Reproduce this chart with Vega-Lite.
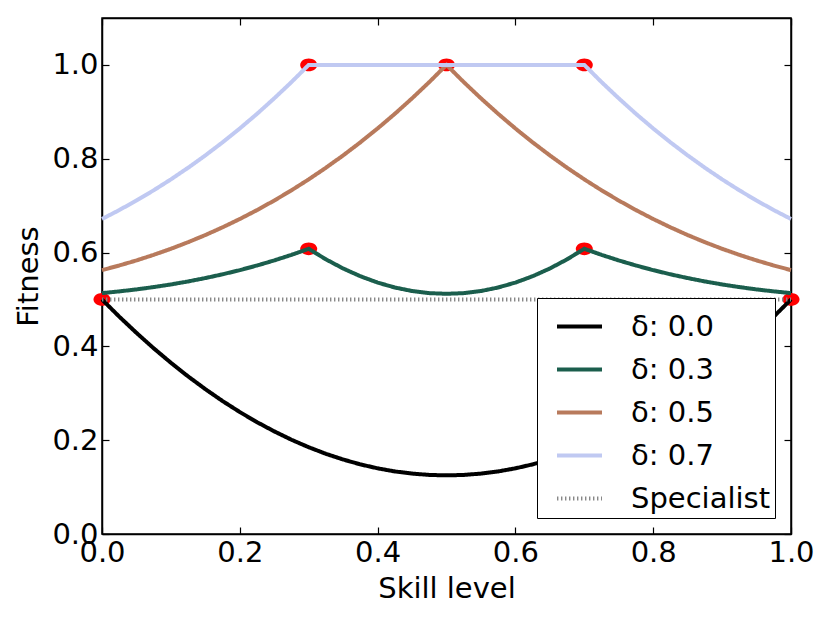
{
  "$schema": "https://vega.github.io/schema/vega-lite/v6.json",
  "width": 689,
  "height": 516,
  "autosize": "none",
  "padding": {"left": 102, "top": 18, "right": 39, "bottom": 89},
  "background": "white",
  "config": {
    "view": {"stroke": "black", "strokeWidth": 1.5},
    "font": "DejaVu Sans",
    "axis": {
      "domainColor": "black",
      "domainWidth": 1.5,
      "tickColor": "black",
      "tickWidth": 1.2,
      "tickSize": -7,
      "labelPadding": 11,
      "labelFont": "DejaVu Sans",
      "labelFontSize": 29,
      "labelColor": "black",
      "labelFlush": false,
      "labelOverlap": false,
      "titleFont": "DejaVu Sans",
      "titleFontSize": 29,
      "titleFontWeight": "normal",
      "titleColor": "black",
      "grid": false
    },
    "legend": {
      "padding": 4,
      "symbolOffset": 14,
      "symbolType": "stroke",
      "symbolSize": 2025,
      "symbolStrokeWidth": 4,
      "labelFont": "DejaVu Sans",
      "labelFontSize": 29,
      "labelColor": "black",
      "labelOffset": 27,
      "labelLimit": 300,
      "rowPadding": 3,
      "strokeColor": "black",
      "fillColor": "white",
      "cornerRadius": 0
    }
  },
  "datasets": {
    "peaks": [
      {"x": 0, "y": 0.5},
      {"x": 1, "y": 0.5},
      {"x": 0.3, "y": 0.608},
      {"x": 0.7, "y": 0.608},
      {"x": 0.5, "y": 1},
      {"x": 0.3, "y": 1},
      {"x": 0.7, "y": 1}
    ],
    "curves": [
      {"x": 0, "y": 0.5, "s": "δ: 0.0"},
      {"x": 0.025, "y": 0.4634, "s": "δ: 0.0"},
      {"x": 0.05, "y": 0.4288, "s": "δ: 0.0"},
      {"x": 0.075, "y": 0.3959, "s": "δ: 0.0"},
      {"x": 0.1, "y": 0.365, "s": "δ: 0.0"},
      {"x": 0.125, "y": 0.3359, "s": "δ: 0.0"},
      {"x": 0.15, "y": 0.3088, "s": "δ: 0.0"},
      {"x": 0.175, "y": 0.2834, "s": "δ: 0.0"},
      {"x": 0.2, "y": 0.26, "s": "δ: 0.0"},
      {"x": 0.225, "y": 0.2384, "s": "δ: 0.0"},
      {"x": 0.25, "y": 0.2188, "s": "δ: 0.0"},
      {"x": 0.275, "y": 0.2009, "s": "δ: 0.0"},
      {"x": 0.3, "y": 0.185, "s": "δ: 0.0"},
      {"x": 0.325, "y": 0.1709, "s": "δ: 0.0"},
      {"x": 0.35, "y": 0.1588, "s": "δ: 0.0"},
      {"x": 0.375, "y": 0.1484, "s": "δ: 0.0"},
      {"x": 0.4, "y": 0.14, "s": "δ: 0.0"},
      {"x": 0.425, "y": 0.1334, "s": "δ: 0.0"},
      {"x": 0.45, "y": 0.1288, "s": "δ: 0.0"},
      {"x": 0.475, "y": 0.1259, "s": "δ: 0.0"},
      {"x": 0.5, "y": 0.125, "s": "δ: 0.0"},
      {"x": 0.525, "y": 0.1259, "s": "δ: 0.0"},
      {"x": 0.55, "y": 0.1288, "s": "δ: 0.0"},
      {"x": 0.575, "y": 0.1334, "s": "δ: 0.0"},
      {"x": 0.6, "y": 0.14, "s": "δ: 0.0"},
      {"x": 0.625, "y": 0.1484, "s": "δ: 0.0"},
      {"x": 0.65, "y": 0.1588, "s": "δ: 0.0"},
      {"x": 0.675, "y": 0.1709, "s": "δ: 0.0"},
      {"x": 0.7, "y": 0.185, "s": "δ: 0.0"},
      {"x": 0.725, "y": 0.2009, "s": "δ: 0.0"},
      {"x": 0.75, "y": 0.2188, "s": "δ: 0.0"},
      {"x": 0.775, "y": 0.2384, "s": "δ: 0.0"},
      {"x": 0.8, "y": 0.26, "s": "δ: 0.0"},
      {"x": 0.825, "y": 0.2834, "s": "δ: 0.0"},
      {"x": 0.85, "y": 0.3088, "s": "δ: 0.0"},
      {"x": 0.875, "y": 0.3359, "s": "δ: 0.0"},
      {"x": 0.9, "y": 0.365, "s": "δ: 0.0"},
      {"x": 0.925, "y": 0.3959, "s": "δ: 0.0"},
      {"x": 0.95, "y": 0.4288, "s": "δ: 0.0"},
      {"x": 0.975, "y": 0.4634, "s": "δ: 0.0"},
      {"x": 1, "y": 0.5, "s": "δ: 0.0"},

      {"x": 0, "y": 0.5135, "s": "δ: 0.3"},
      {"x": 0.025, "y": 0.5172, "s": "δ: 0.3"},
      {"x": 0.05, "y": 0.5214, "s": "δ: 0.3"},
      {"x": 0.075, "y": 0.5264, "s": "δ: 0.3"},
      {"x": 0.1, "y": 0.532, "s": "δ: 0.3"},
      {"x": 0.125, "y": 0.5384, "s": "δ: 0.3"},
      {"x": 0.15, "y": 0.5456, "s": "δ: 0.3"},
      {"x": 0.175, "y": 0.5536, "s": "δ: 0.3"},
      {"x": 0.2, "y": 0.5625, "s": "δ: 0.3"},
      {"x": 0.225, "y": 0.5724, "s": "δ: 0.3"},
      {"x": 0.25, "y": 0.5832, "s": "δ: 0.3"},
      {"x": 0.275, "y": 0.5951, "s": "δ: 0.3"},
      {"x": 0.3, "y": 0.608, "s": "δ: 0.3"},
      {"x": 0.325, "y": 0.5855, "s": "δ: 0.3"},
      {"x": 0.35, "y": 0.566, "s": "δ: 0.3"},
      {"x": 0.375, "y": 0.5495, "s": "δ: 0.3"},
      {"x": 0.4, "y": 0.536, "s": "δ: 0.3"},
      {"x": 0.425, "y": 0.5255, "s": "δ: 0.3"},
      {"x": 0.45, "y": 0.518, "s": "δ: 0.3"},
      {"x": 0.475, "y": 0.5135, "s": "δ: 0.3"},
      {"x": 0.5, "y": 0.512, "s": "δ: 0.3"},
      {"x": 0.525, "y": 0.5135, "s": "δ: 0.3"},
      {"x": 0.55, "y": 0.518, "s": "δ: 0.3"},
      {"x": 0.575, "y": 0.5255, "s": "δ: 0.3"},
      {"x": 0.6, "y": 0.536, "s": "δ: 0.3"},
      {"x": 0.625, "y": 0.5495, "s": "δ: 0.3"},
      {"x": 0.65, "y": 0.566, "s": "δ: 0.3"},
      {"x": 0.675, "y": 0.5855, "s": "δ: 0.3"},
      {"x": 0.7, "y": 0.608, "s": "δ: 0.3"},
      {"x": 0.725, "y": 0.5951, "s": "δ: 0.3"},
      {"x": 0.75, "y": 0.5832, "s": "δ: 0.3"},
      {"x": 0.775, "y": 0.5724, "s": "δ: 0.3"},
      {"x": 0.8, "y": 0.5625, "s": "δ: 0.3"},
      {"x": 0.825, "y": 0.5536, "s": "δ: 0.3"},
      {"x": 0.85, "y": 0.5456, "s": "δ: 0.3"},
      {"x": 0.875, "y": 0.5384, "s": "δ: 0.3"},
      {"x": 0.9, "y": 0.532, "s": "δ: 0.3"},
      {"x": 0.925, "y": 0.5264, "s": "δ: 0.3"},
      {"x": 0.95, "y": 0.5214, "s": "δ: 0.3"},
      {"x": 0.975, "y": 0.5172, "s": "δ: 0.3"},
      {"x": 1, "y": 0.5135, "s": "δ: 0.3"},

      {"x": 0, "y": 0.5625, "s": "δ: 0.5"},
      {"x": 0.025, "y": 0.5724, "s": "δ: 0.5"},
      {"x": 0.05, "y": 0.5832, "s": "δ: 0.5"},
      {"x": 0.075, "y": 0.5951, "s": "δ: 0.5"},
      {"x": 0.1, "y": 0.608, "s": "δ: 0.5"},
      {"x": 0.125, "y": 0.6221, "s": "δ: 0.5"},
      {"x": 0.15, "y": 0.6373, "s": "δ: 0.5"},
      {"x": 0.175, "y": 0.6538, "s": "δ: 0.5"},
      {"x": 0.2, "y": 0.6715, "s": "δ: 0.5"},
      {"x": 0.225, "y": 0.6905, "s": "δ: 0.5"},
      {"x": 0.25, "y": 0.7109, "s": "δ: 0.5"},
      {"x": 0.275, "y": 0.7327, "s": "δ: 0.5"},
      {"x": 0.3, "y": 0.756, "s": "δ: 0.5"},
      {"x": 0.325, "y": 0.7808, "s": "δ: 0.5"},
      {"x": 0.35, "y": 0.8071, "s": "δ: 0.5"},
      {"x": 0.375, "y": 0.835, "s": "δ: 0.5"},
      {"x": 0.4, "y": 0.8645, "s": "δ: 0.5"},
      {"x": 0.425, "y": 0.8957, "s": "δ: 0.5"},
      {"x": 0.45, "y": 0.9287, "s": "δ: 0.5"},
      {"x": 0.475, "y": 0.9634, "s": "δ: 0.5"},
      {"x": 0.5, "y": 1, "s": "δ: 0.5"},
      {"x": 0.525, "y": 0.9634, "s": "δ: 0.5"},
      {"x": 0.55, "y": 0.9287, "s": "δ: 0.5"},
      {"x": 0.575, "y": 0.8957, "s": "δ: 0.5"},
      {"x": 0.6, "y": 0.8645, "s": "δ: 0.5"},
      {"x": 0.625, "y": 0.835, "s": "δ: 0.5"},
      {"x": 0.65, "y": 0.8071, "s": "δ: 0.5"},
      {"x": 0.675, "y": 0.7808, "s": "δ: 0.5"},
      {"x": 0.7, "y": 0.756, "s": "δ: 0.5"},
      {"x": 0.725, "y": 0.7327, "s": "δ: 0.5"},
      {"x": 0.75, "y": 0.7109, "s": "δ: 0.5"},
      {"x": 0.775, "y": 0.6905, "s": "δ: 0.5"},
      {"x": 0.8, "y": 0.6715, "s": "δ: 0.5"},
      {"x": 0.825, "y": 0.6538, "s": "δ: 0.5"},
      {"x": 0.85, "y": 0.6373, "s": "δ: 0.5"},
      {"x": 0.875, "y": 0.6221, "s": "δ: 0.5"},
      {"x": 0.9, "y": 0.608, "s": "δ: 0.5"},
      {"x": 0.925, "y": 0.5951, "s": "δ: 0.5"},
      {"x": 0.95, "y": 0.5832, "s": "δ: 0.5"},
      {"x": 0.975, "y": 0.5724, "s": "δ: 0.5"},
      {"x": 1, "y": 0.5625, "s": "δ: 0.5"},

      {"x": 0, "y": 0.6715, "s": "δ: 0.7"},
      {"x": 0.025, "y": 0.6905, "s": "δ: 0.7"},
      {"x": 0.05, "y": 0.7109, "s": "δ: 0.7"},
      {"x": 0.075, "y": 0.7327, "s": "δ: 0.7"},
      {"x": 0.1, "y": 0.756, "s": "δ: 0.7"},
      {"x": 0.125, "y": 0.7808, "s": "δ: 0.7"},
      {"x": 0.15, "y": 0.8071, "s": "δ: 0.7"},
      {"x": 0.175, "y": 0.835, "s": "δ: 0.7"},
      {"x": 0.2, "y": 0.8645, "s": "δ: 0.7"},
      {"x": 0.225, "y": 0.8957, "s": "δ: 0.7"},
      {"x": 0.25, "y": 0.9287, "s": "δ: 0.7"},
      {"x": 0.275, "y": 0.9634, "s": "δ: 0.7"},
      {"x": 0.3, "y": 1, "s": "δ: 0.7"},
      {"x": 0.5, "y": 1, "s": "δ: 0.7"},
      {"x": 0.7, "y": 1, "s": "δ: 0.7"},
      {"x": 0.725, "y": 0.9634, "s": "δ: 0.7"},
      {"x": 0.75, "y": 0.9287, "s": "δ: 0.7"},
      {"x": 0.775, "y": 0.8957, "s": "δ: 0.7"},
      {"x": 0.8, "y": 0.8645, "s": "δ: 0.7"},
      {"x": 0.825, "y": 0.835, "s": "δ: 0.7"},
      {"x": 0.85, "y": 0.8071, "s": "δ: 0.7"},
      {"x": 0.875, "y": 0.7808, "s": "δ: 0.7"},
      {"x": 0.9, "y": 0.756, "s": "δ: 0.7"},
      {"x": 0.925, "y": 0.7327, "s": "δ: 0.7"},
      {"x": 0.95, "y": 0.7109, "s": "δ: 0.7"},
      {"x": 0.975, "y": 0.6905, "s": "δ: 0.7"},
      {"x": 1, "y": 0.6715, "s": "δ: 0.7"},

      {"x": 0, "y": 0.5, "s": "Specialist"},
      {"x": 1, "y": 0.5, "s": "Specialist"}
    ]
  },
  "layer": [
    {
      "data": {"name": "peaks"},
      "mark": {
        "type": "point",
        "shape": "M -1 0 A 1 0.75 0 1 1 1 0 A 1 0.75 0 1 1 -1 0 Z",
        "filled": true,
        "color": "#ff0000",
        "opacity": 1,
        "size": 289
      },
      "encoding": {
        "x": {
          "field": "x",
          "type": "quantitative",
          "scale": {"domain": [0, 1], "nice": false, "zero": false},
          "axis": {"title": "Skill level", "values": [0, 0.2, 0.4, 0.6, 0.8, 1], "format": ".1f", "titlePadding": 7}
        },
        "y": {
          "field": "y",
          "type": "quantitative",
          "scale": {"domain": [0, 1.1], "nice": false},
          "axis": {"title": "Fitness", "values": [0, 0.2, 0.4, 0.6, 0.8, 1], "format": ".1f", "titlePadding": 8}
        }
      }
    },
    {
      "data": {"name": "curves"},
      "mark": {"type": "line", "strokeWidth": 4},
      "encoding": {
        "x": {
          "field": "x",
          "type": "quantitative",
          "axis": {"orient": "top", "labels": false, "title": null, "values": [0, 0.2, 0.4, 0.6, 0.8, 1]}
        },
        "y": {
          "field": "y",
          "type": "quantitative",
          "axis": {"orient": "right", "labels": false, "title": null, "values": [0, 0.2, 0.4, 0.6, 0.8, 1]}
        },
        "color": {
          "field": "s",
          "type": "nominal",
          "scale": {
            "domain": ["δ: 0.0", "δ: 0.3", "δ: 0.5", "δ: 0.7", "Specialist"],
            "range": ["#000000", "#1b5e4d", "#b87a5c", "#c0c9f2", "#888888"]
          },
          "legend": {"title": null, "orient": "none", "legendX": 435, "legendY": 280}
        },
        "strokeDash": {
          "field": "s",
          "type": "nominal",
          "scale": {
            "domain": ["δ: 0.0", "δ: 0.3", "δ: 0.5", "δ: 0.7", "Specialist"],
            "range": [[1, 0], [1, 0], [1, 0], [1, 0], [1.4, 2.6]]
          },
          "legend": {"title": null, "orient": "none", "legendX": 435, "legendY": 280}
        }
      }
    }
  ],
  "resolve": {"axis": {"x": "independent", "y": "independent"}}
}
